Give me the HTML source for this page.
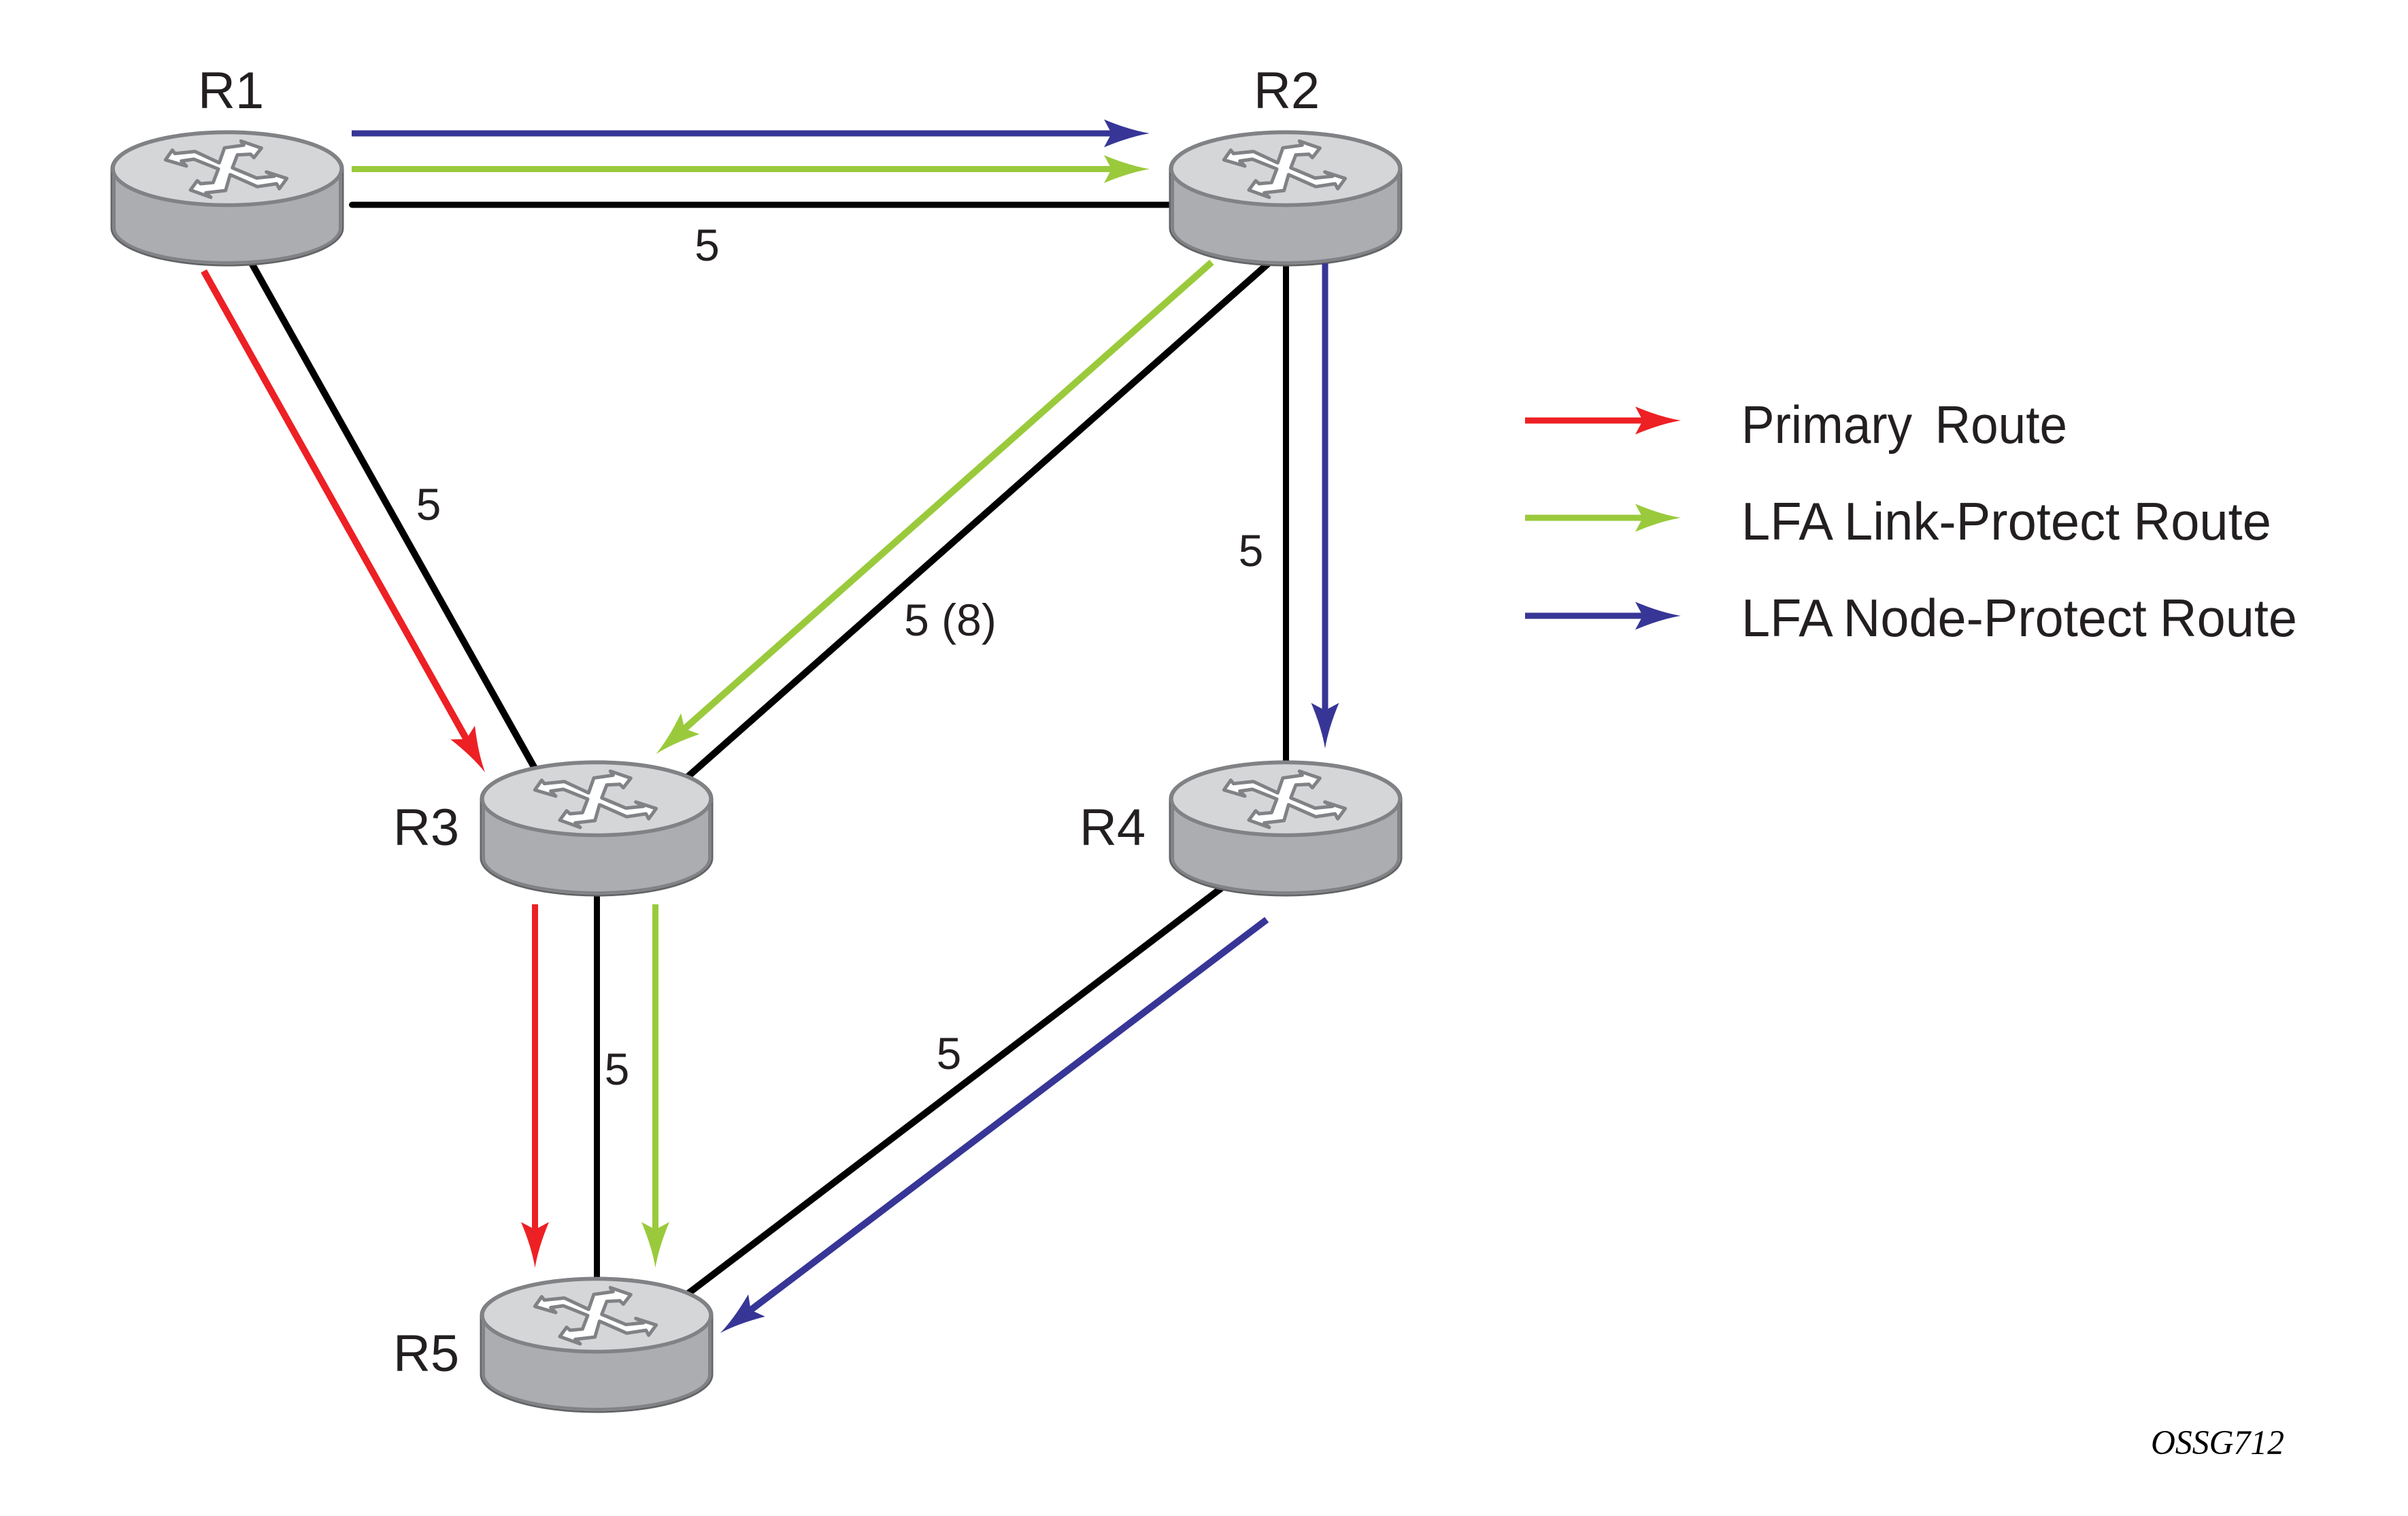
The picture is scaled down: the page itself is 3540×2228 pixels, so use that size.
<!DOCTYPE html>
<html>
<head>
<meta charset="utf-8">
<style>
html,body{margin:0;padding:0;background:#fff;width:3540px;height:2228px;overflow:hidden}
svg{display:block}
text{font-family:"Liberation Sans",Arial,sans-serif;fill:#231f20}
.r{font-size:76px}
.n{font-size:66px;text-anchor:middle}
.l{font-size:78px}
.o{font-family:"Liberation Serif",serif;font-style:italic;font-size:51px;fill:#000}
</style>
</head>
<body>
<svg width="3540" height="2228" viewBox="0 0 3540 2228" xmlns="http://www.w3.org/2000/svg">
<defs>
<path id="h" d="M0,0 Q-30,-5 -67,-20.5 L-56,0 L-67,20.5 Q-30,5 0,0 Z"/>
<g id="router">
<path d="M164,248 V335 A170,55 0 0 0 504,335 V248 A170,55 0 0 0 164,248 Z" fill="#abadb0" stroke="#636466" stroke-width="3"/>
<path d="M168,250 V335 A166,51 0 0 0 500,335 V250" fill="none" stroke="#808285" stroke-width="4"/>
<ellipse cx="334" cy="248" rx="168" ry="53.5" fill="#d5d6d8" stroke="#808285" stroke-width="5.5"/>
<g transform="translate(120,60) scale(.3333)">
<polygon points="370,525 400,482 412,497 500,488 607,538 630,472 715,460 703,442 793,473 760,515 745,500 687,503 665,560 772,605 850,597 815,578 905,607 872,652 860,630 775,643 655,590 635,660 548,670 570,690 480,658 510,617 525,630 580,625 603,565 495,522 440,530 462,552" fill="#fff" stroke="#808285" stroke-width="15" stroke-linejoin="round"/>
</g>
</g>
</defs>

<!-- black links -->
<g stroke="#000" fill="none">
<line x1="517.5" y1="301" x2="1730" y2="301" stroke-linecap="round" stroke-width="9"/>
<line x1="365" y1="378" x2="790" y2="1136" stroke-width="10"/>
<line x1="1875" y1="378" x2="1006" y2="1146" stroke-width="10"/>
<line x1="1890.5" y1="380" x2="1890.5" y2="1130" stroke-width="9"/>
<line x1="877.5" y1="1305" x2="877.5" y2="1890" stroke-width="9"/>
<line x1="1805" y1="1298" x2="1005" y2="1906" stroke-width="10"/>
</g>

<!-- routers -->
<use href="#router"/>
<use href="#router" transform="translate(1556,0)"/>
<use href="#router" transform="translate(543,926)"/>
<use href="#router" transform="translate(1556,926)"/>
<use href="#router" transform="translate(543,1685)"/>

<g fill="#373696">
<g transform="translate(1690,196)"><rect x="-1173" y="-4.5" width="1118" height="9"/><use href="#h"/></g>
<g transform="translate(1948,1100) rotate(90)"><rect x="-713" y="-4.5" width="658" height="9"/><use href="#h"/></g>
<g transform="translate(1059,1959) rotate(142.9)"><rect x="-1007" y="-5" width="952" height="10"/><use href="#h"/></g>
<g transform="translate(2471,905)"><rect x="-229" y="-4.5" width="174" height="9"/><use href="#h"/></g>
</g>
<g fill="#9aca3c">
<g transform="translate(1690,248.5)"><rect x="-1173" y="-4.5" width="1118" height="9"/><use href="#h"/></g>
<g transform="translate(964.5,1108) rotate(138.5)"><rect x="-1090.6" y="-5" width="1035" height="10"/><use href="#h"/></g>
<g transform="translate(963.5,1863) rotate(90)"><rect x="-534" y="-4.5" width="479" height="9"/><use href="#h"/></g>
<g transform="translate(2471,761)"><rect x="-229" y="-4.5" width="174" height="9"/><use href="#h"/></g>
</g>
<g fill="#ed2024">
<g transform="translate(713,1135) rotate(60.7)"><rect x="-844.8" y="-5" width="790" height="10"/><use href="#h"/></g>
<g transform="translate(786.5,1863) rotate(90)"><rect x="-534" y="-4.5" width="479" height="9"/><use href="#h"/></g>
<g transform="translate(2471,618)"><rect x="-229" y="-4.5" width="174" height="9"/><use href="#h"/></g>
</g>

<!-- router labels -->
<text class="r" x="291" y="159">R1</text>
<text class="r" x="1843" y="159">R2</text>
<text class="r" x="578" y="1242">R3</text>
<text class="r" x="1587" y="1242">R4</text>
<text class="r" x="578" y="2015">R5</text>

<!-- metric labels -->
<text class="n" x="1039.5" y="383">5</text>
<text class="n" x="630" y="764">5</text>
<text class="n" x="1397" y="934">5 (8)</text>
<text class="n" x="1839" y="832">5</text>
<text class="n" x="907" y="1594">5</text>
<text class="n" x="1395" y="1571">5</text>

<!-- legend -->
<text class="l" x="2560" y="651" word-spacing="14" textLength="479" lengthAdjust="spacingAndGlyphs">Primary Route</text>
<text class="l" x="2560" y="793" word-spacing="-1" textLength="779" lengthAdjust="spacingAndGlyphs">LFA Link-Protect Route</text>
<text class="l" x="2560" y="935" word-spacing="-2" textLength="817" lengthAdjust="spacingAndGlyphs">LFA Node-Protect Route</text>

<text class="o" x="3162" y="2137" textLength="196" lengthAdjust="spacingAndGlyphs">OSSG712</text>
</svg>
</body>
</html>
